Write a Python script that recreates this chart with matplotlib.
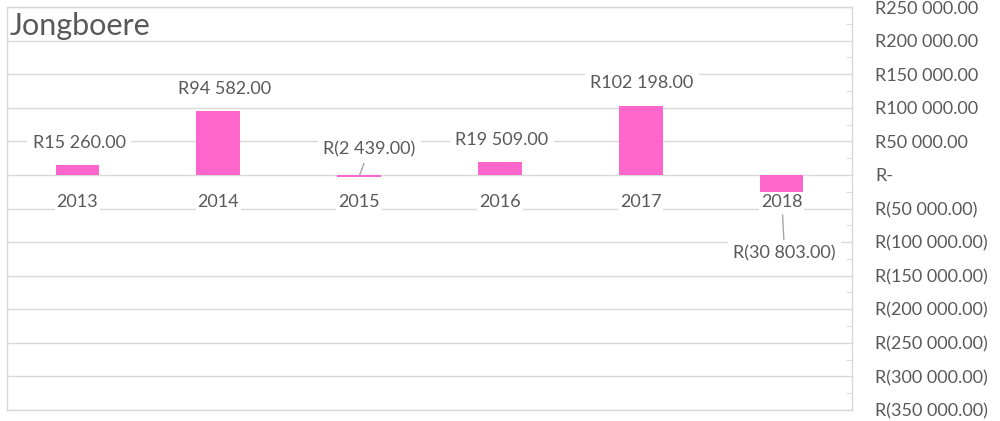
import matplotlib
matplotlib.use('Agg')
import matplotlib.pyplot as plt
from matplotlib.ticker import MultipleLocator, FuncFormatter

years = ['2013', '2014', '2015', '2016', '2017', '2018']
values = [15260, 94582, -2439, 19509, 102198, -30803]

# label offsets in pixels (dx, dy) from the bar end
label_offsets = [(2, 22), (6, 22), (10, 27), (2, 22), (1, 23), (3, -58)]
leaders = [False, False, True, False, False, True]

text_col = '#595959'
grid_col = '#D9D9D9'
bar_col = '#FF66CC'


def rand(v):
    if v == 0:
        return 'R-'
    s = '{:,.2f}'.format(abs(v)).replace(',', ' ')
    if v < 0:
        return 'R(' + s + ')'
    return 'R' + s


plt.rcParams['font.family'] = ['Lato', 'DejaVu Sans']

fig = plt.figure(figsize=(10, 4.21), dpi=100)
ax = fig.add_axes([0.007, 1 - 410 / 421, 0.845, 403 / 421])

x = list(range(len(years)))
ax.bar(x, values, width=0.31, color=bar_col, zorder=2)

ax.set_xlim(-0.5, len(years) - 0.5)
ax.set_ylim(-350000, 250000)
ax.yaxis.set_major_locator(MultipleLocator(50000))
ax.yaxis.set_minor_locator(MultipleLocator(25000))
ax.yaxis.set_major_formatter(FuncFormatter(lambda v, p: rand(v)))
ax.yaxis.tick_right()
ax.tick_params(axis='y', which='major', length=0, pad=16.5, labelsize=13, labelcolor=text_col)
ax.tick_params(axis='y', which='minor', length=4, direction='in', color=grid_col)
for lab in ax.get_yticklabels():
    lab.set_horizontalalignment('left')
ax.set_xticks([])
ax.grid(axis='y', which='major', color=grid_col, linewidth=1, zorder=0)
ax.set_axisbelow(True)
for sp in ax.spines.values():
    sp.set_color(grid_col)
    sp.set_linewidth(1)

# category labels just below zero line
for i, yr in enumerate(years):
    ax.annotate(yr, (i, 0), xytext=(0, -27), textcoords='offset pixels',
                ha='center', va='center', fontsize=13, color=text_col, zorder=4,
                bbox=dict(boxstyle='square,pad=0.1', fc='white', ec='none'))

# data labels
for i, v in enumerate(values):
    dx, dy = label_offsets[i]
    kw = {}
    if leaders[i]:
        kw['arrowprops'] = dict(arrowstyle='-', color='#A6A6A6', lw=1,
                                shrinkA=0, shrinkB=14 if v < -10000 else 0)
    ax.annotate(rand(v), (i, v), xytext=(dx, dy), textcoords='offset pixels',
                ha='center', va='center', fontsize=13, color=text_col, zorder=5,
                bbox=dict(boxstyle='square,pad=0.3', fc='white', ec='none'), **kw)

fig.text(0.010, 1 - 26 / 421, 'Jongboere', fontsize=22, color=text_col,
         ha='left', va='center')

fig.savefig('out.png', dpi=100)
